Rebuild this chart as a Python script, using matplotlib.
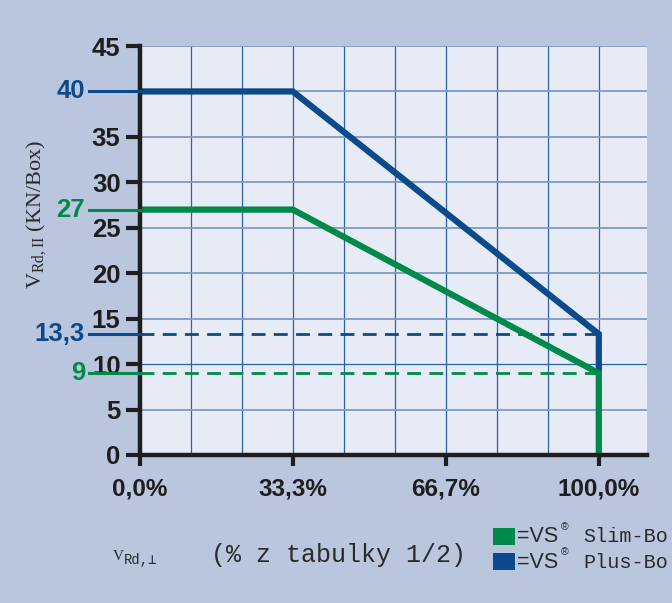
import matplotlib
matplotlib.use("Agg")
import matplotlib.pyplot as plt
from matplotlib.patches import Rectangle
from matplotlib.transforms import blended_transform_factory

# ── data ──
plus_x = [0, 33.3, 100, 100]
plus_y = [40, 40, 13.3, 9]
slim_x = [0, 33.3, 100, 100]
slim_y = [27, 27, 9, 0]

y_ticks = [0, 5, 10, 15, 20, 25, 30, 35, 45]
y_grid = [5, 10, 15, 20, 25, 30, 35, 40, 45]
x_ticks = [0, 33.3, 66.7, 100]
x_labels = ["0,0%", "33,3%", "66,7%", "100,0%"]
x_grid = [11.1, 22.2, 33.3, 44.4, 55.6, 66.7, 77.8, 88.9, 100]

marks = [(40, "40", "plus"), (27, "27", "slim"), (13.3, "13,3", "plus"), (9, "9", "slim")]
dashed = [(13.3, "plus"), (9, "slim")]

BG = "#BAC6DE"
PANEL = "#E7EBF5"
BLUE = "#0B4A8B"
GREEN = "#008A4A"
COL = {"plus": BLUE, "slim": GREEN}
GRID_H = "#7D9AC4"
GRID_V = "#2A62A8"
INK = "#1E1E1E"

BOLD = ["Liberation Sans", "DejaVu Sans"]
MONO = ["Liberation Mono", "DejaVu Sans Mono", "DejaVu Sans"]
SERIF = ["Liberation Serif", "DejaVu Serif"]

fig = plt.figure(figsize=(6.72, 6.03), dpi=100, facecolor=BG)
ax = fig.add_axes([140 / 672, 1 - 455 / 603, 507 / 672, 409 / 603], facecolor=PANEL)
ax.set_xlim(0, 110.5)
ax.set_ylim(0, 45)

# grid
for gx in x_grid:
    ax.axvline(gx, color=GRID_V, lw=0.9, zorder=1)
for gy in y_grid:
    ax.axhline(gy, color=GRID_V if gy == 10 else GRID_H, lw=0.9 if gy == 10 else 1.3, zorder=1)

# dashed reference lines
for val, key in dashed:
    ax.plot([0, 100], [val, val], color=COL[key], lw=2, ls=(0, (5, 3)), zorder=2)

# series
ax.plot(plus_x, plus_y, color=BLUE, lw=4.5, solid_joinstyle="miter", solid_capstyle="butt", zorder=3)
ax.plot(slim_x, slim_y, color=GREEN, lw=4.5, solid_joinstyle="miter", solid_capstyle="butt", zorder=4)

# spines / ticks
for s in ("top", "right"):
    ax.spines[s].set_visible(False)
for s in ("left", "bottom"):
    ax.spines[s].set_linewidth(3.2)
    ax.spines[s].set_color(INK)
    ax.spines[s].set_zorder(5)

ax.set_yticks(y_ticks)
ax.set_yticklabels([str(v) for v in y_ticks], fontfamily=BOLD, fontweight="bold", fontsize=18.5, color=INK)
ax.set_xticks(x_ticks)
ax.set_xticklabels(x_labels, fontfamily=BOLD, fontweight="bold", fontsize=17.5, color=INK)
ax.tick_params(axis="y", length=10, width=3, color=INK, pad=4)
ax.tick_params(axis="x", length=8, width=3, color=INK, pad=8)

# coloured value marks on the y axis
tr = blended_transform_factory(ax.transAxes, ax.transData)
for val, lab, key in marks:
    ax.plot([-0.1006, 0], [val, val], color=COL[key], lw=2.2, transform=tr, clip_on=False, zorder=6)
    ax.text(-0.1085, val, lab, transform=tr, ha="right", va="center", fontfamily=BOLD,
            fontweight="bold", fontsize=18.5, color=COL[key])

# axis titles
fig.text(37 / 672, 1 - 215 / 603, r"V$_{\mathregular{Rd,II}}$ (KN/Box)", rotation=90,
         ha="center", va="center", fontfamily=SERIF, fontsize=16, color="#2A2A2A")
fig.text(113 / 672, 1 - 557 / 603, "V", ha="left", va="center", fontfamily=SERIF,
         fontsize=11, color="#2A2A2A")
fig.text(124 / 672, 1 - 560 / 603, "Rd,⊥", ha="left", va="center", fontfamily=MONO, fontsize=10, color="#2A2A2A")
fig.text(211 / 672, 1 - 555 / 603, "(% z tabulky 1/2)", ha="left", va="center", fontfamily=MONO,
         fontsize=18, color="#2A2A2A")

# legend (the reference is clipped at the right edge)
legend_items = [(GREEN, "Slim-Bo", 528), (BLUE, "Plus-Bo", 553)]
for col, name, ytop in legend_items:
    fig.patches.append(Rectangle((493 / 672, 1 - (ytop + 17) / 603), 22 / 672, 17 / 603,
                                 transform=fig.transFigure, facecolor=col, edgecolor="none"))
    yc = 1 - (ytop + 9) / 603
    fig.text(517 / 672, yc, "=VS", ha="left", va="center", fontfamily=BOLD,
             fontsize=15.5, color="#2A2A2A")
    fig.text(561 / 672, yc + 10 / 603, "®", ha="left", va="center", fontfamily=BOLD,
             fontsize=7.5, color="#2A2A2A")
    fig.text(583 / 672, yc, name, ha="left", va="center", fontfamily=MONO, fontsize=14.5, color="#2A2A2A")

fig.savefig("out.png", dpi=100, facecolor=BG)
